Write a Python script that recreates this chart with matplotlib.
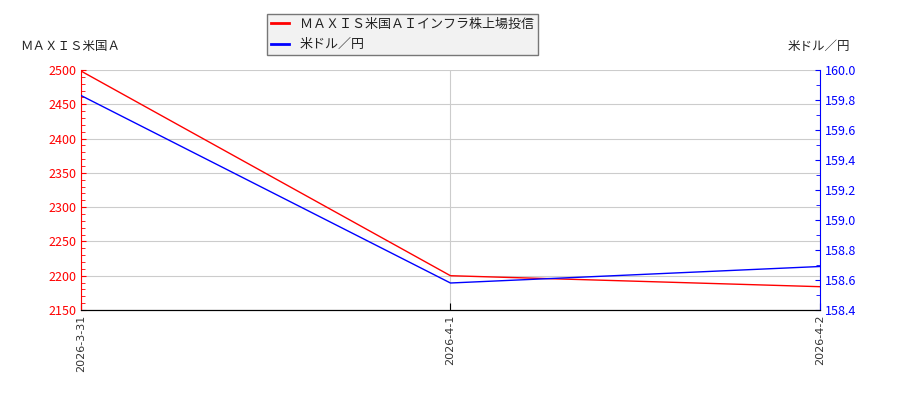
import matplotlib
matplotlib.use('Agg')
import matplotlib.pyplot as plt
from matplotlib.ticker import MultipleLocator

plt.rcParams['font.family'] = ['Noto Sans CJK JP', 'DejaVu Sans']

dates = ['2026-3-31', '2026-4-1', '2026-4-2']
fund = [2498.5, 2200, 2184]
usdjpy = [159.83, 158.58, 158.69]
fund_name = 'ＭＡＸＩＳ米国ＡＩインフラ株上場投信'
fx_name = '米ドル／円'

fig = plt.figure(figsize=(9, 4), dpi=100)
ax = fig.add_axes([0.09, 0.225, 0.821, 0.6])
ax2 = ax.twinx()

x = list(range(len(dates)))
l1, = ax.plot(x, fund, color='red', linewidth=1)
l2, = ax2.plot(x, usdjpy, color='blue', linewidth=1)

ax.set_xlim(0, len(dates) - 1)
ax.set_ylim(2150, 2500)
ax2.set_ylim(158.4, 160.0)

ax.yaxis.set_major_locator(MultipleLocator(50))
ax.yaxis.set_minor_locator(MultipleLocator(10))
ax2.yaxis.set_major_locator(MultipleLocator(0.2))
ax2.yaxis.set_minor_locator(MultipleLocator(0.1))
ax2.yaxis.set_major_formatter(plt.FuncFormatter(lambda v, p: f'{v:.1f}'))

ax.set_xticks(x)
ax.set_xticklabels(dates, rotation=90, fontsize=8, color='#333333',
                   family='DejaVu Sans')
ax.grid(True, color='#cccccc', linewidth=0.8)
ax.set_axisbelow(True)

ax.tick_params(axis='y', direction='in', colors='red', labelsize=9)
ax.tick_params(axis='y', which='minor', direction='in', colors='red', length=3)
ax.tick_params(axis='x', direction='in', length=5, color='black')
ax2.tick_params(axis='y', direction='in', colors='blue', labelsize=9)
ax2.tick_params(axis='y', which='minor', direction='in', colors='blue', length=3)

for a in (ax, ax2):
    a.spines['top'].set_visible(False)
ax.spines['left'].set_color('red')
ax.spines['right'].set_visible(False)
ax2.spines['left'].set_visible(False)
ax2.spines['right'].set_color('blue')
ax2.spines['bottom'].set_color('black')

fig.text(0.022, 0.875, 'ＭＡＸＩＳ米国Ａ', fontsize=9, color='#222222')
fig.text(0.944, 0.875, fx_name, fontsize=9, color='#222222', ha='right')

leg = fig.legend([l1, l2], [fund_name, fx_name], loc='upper left',
                 bbox_to_anchor=(0.297, 0.965), borderaxespad=0,
                 fontsize=9.4, frameon=True, fancybox=False, handlelength=1.4,
                 borderpad=0.3, labelspacing=0.55, labelcolor='#222222')
leg.get_frame().set_facecolor('#f2f2f2')
leg.get_frame().set_edgecolor('#777777')
leg.get_frame().set_alpha(1)
for line in leg.get_lines():
    line.set_linewidth(2)

fig.savefig('out.png', dpi=100)
